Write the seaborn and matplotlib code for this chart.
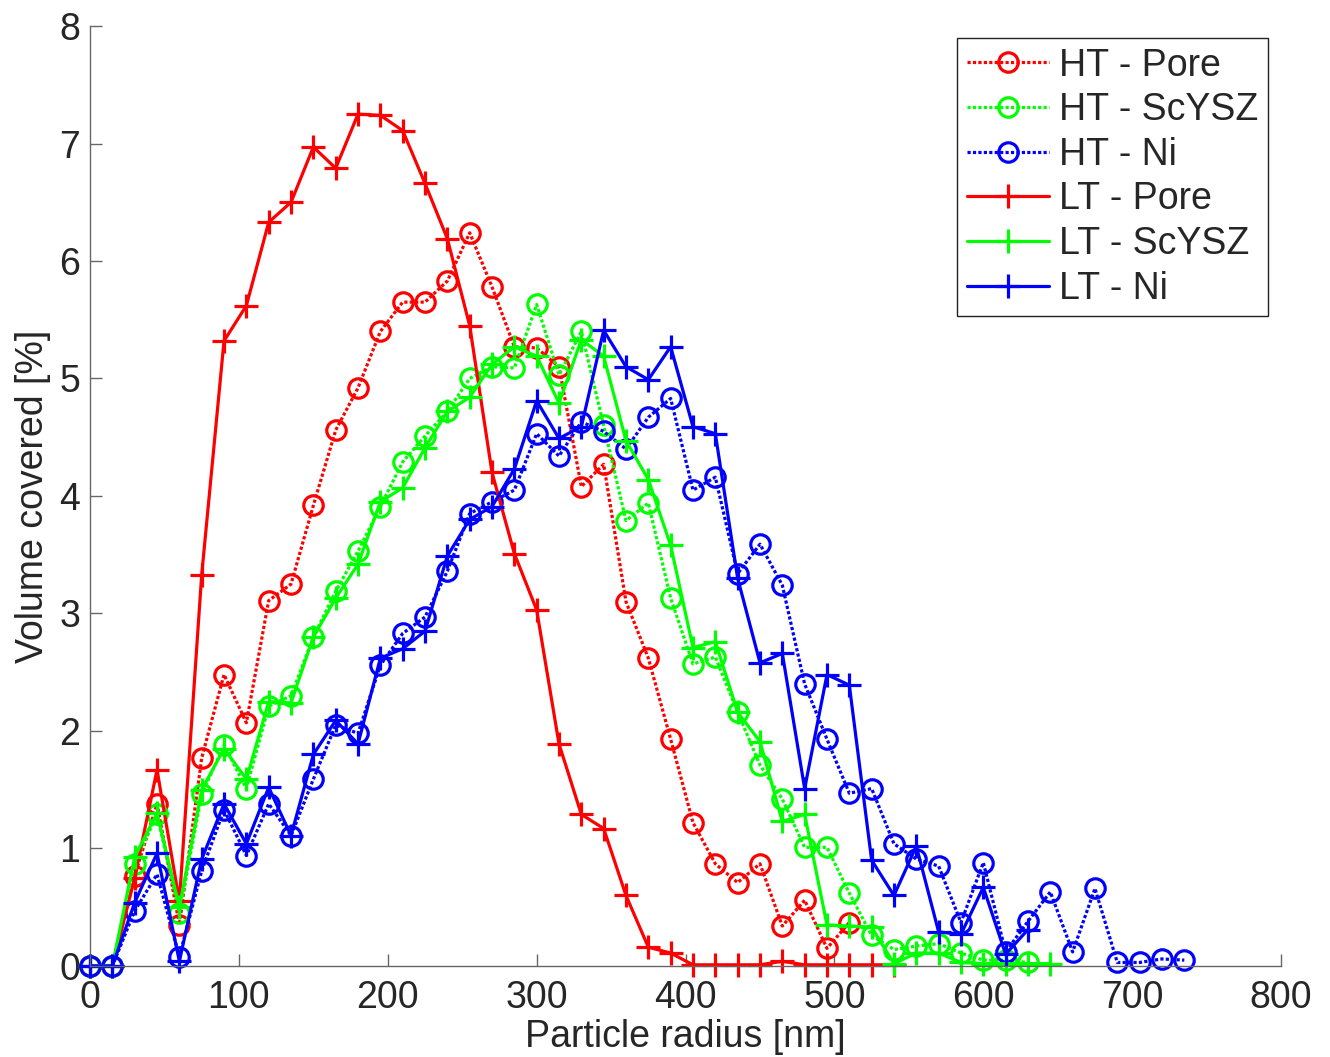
import numpy as np
import pandas as pd
import seaborn as sns
from matplotlib import pyplot as plt

# particle radius grid [nm]
radius = [0, 15, 30, 45, 60, 75, 90, 105, 120, 135, 150, 165, 180, 195, 210,
          225, 240, 255, 270, 285, 300, 315, 330, 345, 360, 375, 390, 405,
          420, 435, 450, 465, 480, 495, 510, 525, 540, 555, 570, 585, 600,
          615, 630, 645, 660, 675, 690, 705, 720, 735]

# volume covered [%]
ht_pore = [0, 0, 0.77, 1.38, 0.35, 1.77, 2.48, 2.07, 3.11, 3.25, 3.92, 4.56,
           4.92, 5.40, 5.65, 5.65, 5.83, 6.24, 5.78, 5.27, 5.26, 5.10, 4.08,
           4.27, 3.10, 2.62, 1.93, 1.22, 0.87, 0.71, 0.87, 0.34, 0.56, 0.15,
           0.37]
ht_scysz = [0, 0, 0.87, 1.29, 0.45, 1.46, 1.88, 1.51, 2.21, 2.30, 2.80, 3.19,
            3.53, 3.91, 4.29, 4.51, 4.72, 5.00, 5.10, 5.09, 5.63, 5.03, 5.40,
            4.60, 3.79, 3.94, 3.13, 2.57, 2.63, 2.16, 1.71, 1.42, 1.01, 1.01,
            0.62, 0.26, 0.14, 0.17, 0.19, 0.11, 0.05, 0.05, 0.03]
ht_ni = [0, 0, 0.47, 0.78, 0.08, 0.81, 1.33, 0.94, 1.38, 1.11, 1.59, 2.05,
         1.98, 2.56, 2.83, 2.97, 3.36, 3.85, 3.95, 4.05, 4.53, 4.34, 4.63,
         4.55, 4.40, 4.67, 4.83, 4.05, 4.16, 3.34, 3.59, 3.24, 2.40, 1.93,
         1.47, 1.51, 1.04, 0.91, 0.85, 0.37, 0.88, 0.12, 0.38, 0.63, 0.12,
         0.66, 0.03, 0.03, 0.06, 0.05]
lt_pore = [0, 0, 0.75, 1.67, 0.55, 3.33, 5.32, 5.62, 6.33, 6.50, 6.97, 6.79,
           7.25, 7.24, 7.11, 6.66, 6.19, 5.45, 4.20, 3.51, 3.03, 1.89, 1.29,
           1.17, 0.60, 0.16, 0.11, 0.01, 0.01, 0.01, 0.01, 0.04, 0.01, 0.01,
           0.01, 0.01, 0.01]
lt_scysz = [0, 0, 0.93, 1.30, 0.50, 1.50, 1.85, 1.59, 2.25, 2.24, 2.80, 3.13,
            3.42, 3.95, 4.07, 4.41, 4.72, 4.84, 5.12, 5.27, 5.19, 4.79, 5.33,
            5.19, 4.47, 4.14, 3.58, 2.71, 2.76, 2.16, 1.91, 1.23, 1.29, 0.35,
            0.34, 0.33, 0.02, 0.11, 0.11, 0.03, 0.02, 0.02, 0.02, 0.02]
lt_ni = [0, 0, 0.54, 0.96, 0.04, 0.91, 1.38, 1.04, 1.52, 1.11, 1.80, 2.09,
         1.89, 2.62, 2.70, 2.85, 3.49, 3.80, 3.91, 4.23, 4.81, 4.49, 4.59,
         5.41, 5.10, 4.99, 5.27, 4.59, 4.53, 3.30, 2.58, 2.66, 1.51, 2.48,
         2.39, 0.90, 0.60, 1.02, 0.29, 0.27, 0.67, 0.10, 0.31]

dotted = (0, (1.0, 0.7))
series = [
    ("HT - Pore", ht_pore, "#ff0000", dotted, "o"),
    ("HT - ScYSZ", ht_scysz, "#00ff00", dotted, "o"),
    ("HT - Ni", ht_ni, "#0000ff", dotted, "o"),
    ("LT - Pore", lt_pore, "#ff0000", "-", "+"),
    ("LT - ScYSZ", lt_scysz, "#00ff00", "-", "+"),
    ("LT - Ni", lt_ni, "#0000ff", "-", "+"),
]

sns.set_theme(style="white")
plt.rcParams['font.family'] = ['Liberation Sans', 'DejaVu Sans']

fig = plt.figure(figsize=(13.3, 10.57), dpi=100)
ax = fig.add_axes([0.0677, 0.0861, 0.8955, 0.8893])

for name, vals, col, ls, mk in series:
    df = pd.DataFrame({"radius": radius[:len(vals)], "volume": vals})
    msize = 14 if mk == "o" else 17
    sns.lineplot(data=df, x="radius", y="volume", ax=ax, color=col,
                 linestyle=ls, linewidth=2.3, marker=mk, markersize=msize,
                 markerfacecolor="none", markeredgecolor=col,
                 markeredgewidth=2.3, label=name, clip_on=False)

ax.set_xlim(0, 800)
ax.set_ylim(0, 8)
ax.set_xticks(range(0, 801, 100))
ax.set_yticks(range(0, 9))
ax.tick_params(direction="in", length=8.5, width=1, color="#666666",
               labelsize=27, bottom=True, left=True)
ax.tick_params(axis="x", pad=10)
ax.tick_params(axis="y", pad=7)
for s in ["top", "right"]:
    ax.spines[s].set_visible(False)
for s in ["left", "bottom"]:
    ax.spines[s].set_color("#666666")
    ax.spines[s].set_linewidth(1)
ax.set_xlabel("Particle radius [nm]", fontsize=27, labelpad=2)
ax.set_ylabel("Volume covered [%]", fontsize=27, labelpad=6)

leg = ax.legend(loc="upper right", bbox_to_anchor=(0.989, 0.987),
                borderaxespad=0, fontsize=27, fancybox=False,
                edgecolor="#222222", framealpha=1, handlelength=2.2,
                labelspacing=0.23, borderpad=0.25, handletextpad=0.27)
leg.get_frame().set_linewidth(1)

fig.savefig("out.png", dpi=100, facecolor="white")
